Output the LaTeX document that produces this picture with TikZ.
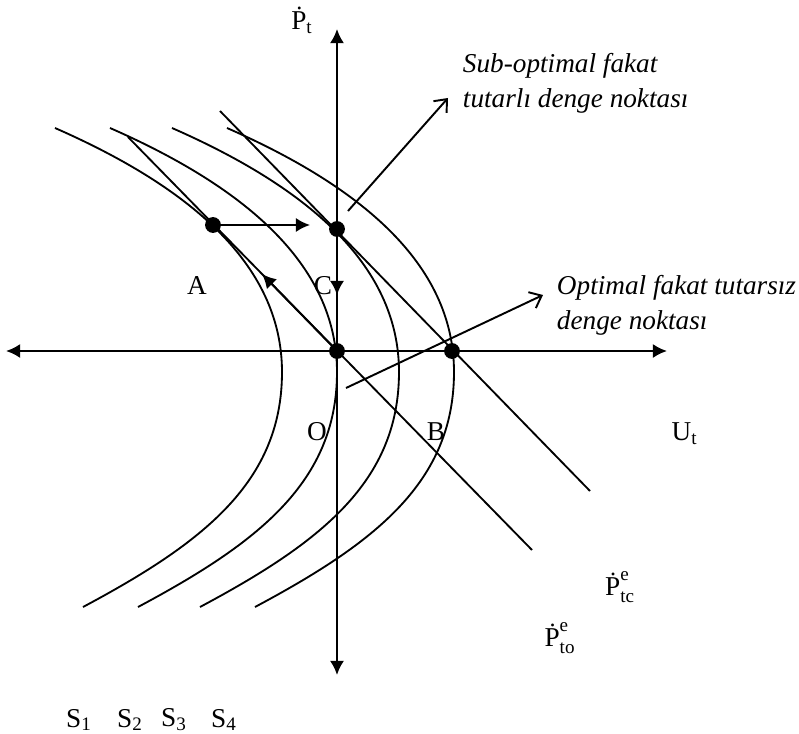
\documentclass[tikz,border=0pt]{standalone}
\usepackage{fontspec}
\setmainfont{Liberation Serif}
\usepackage{amsmath}
\usetikzlibrary{arrows.meta}

\newcommand{\Pd}{\text{Ṗ}}

\tikzset{
    dot/.style={circle, fill, inner sep=0pt, minimum size=9pt},
    bigtip/.style={-{Latex[length=8pt,width=8pt]}},
    bothtips/.style={{Latex[length=8pt,width=8pt]}-{Latex[length=8pt,width=8pt]}},
    opentip/.style={-{Straight Barb[length=6pt,width=10pt]}},
    curve/.style={line width=1.05pt},
    note/.style={font=\fontsize{15.5}{20}\selectfont\itshape, align=left, anchor=west, inner sep=0pt}
}

\begin{document}
\begin{tikzpicture}[
    x=0.2cm, y=0.2cm,
    line width=1.1pt,
    every node/.style={font=\fontsize{15.5}{20}\selectfont}
]
\useasboundingbox (-33.7,-38.3) rectangle (46.2,35.1);

% axes
\coordinate (xl) at (-33.1,0);
\coordinate (xr) at (33.0,0);
\coordinate (yt) at (0,32.2);
\coordinate (yb) at (0,-32.4);
\draw[bothtips, line width=1.3pt] (xl) -- (xr);
\draw[bothtips, line width=1.3pt] (yb) -- (yt);

% curves S1 ... S4
\draw[curve] (-28.2,22.3) .. controls (-15.2,16.6) and (-5.5,8.9) .. (-5.5,-2.1)
    .. controls (-5.5,-13.1) and (-13.4,-19.2) .. (-25.4,-25.6);
\draw[curve, shift={(5.5,0)}] (-28.2,22.3) .. controls (-15.2,16.6) and (-5.5,8.9) .. (-5.5,-2.1)
    .. controls (-5.5,-13.1) and (-13.4,-19.2) .. (-25.4,-25.6);
\draw[curve, shift={(11.7,0)}] (-28.2,22.3) .. controls (-15.2,16.6) and (-5.5,8.9) .. (-5.5,-2.1)
    .. controls (-5.5,-13.1) and (-13.4,-19.2) .. (-25.4,-25.6);
\draw[curve, shift={(17.2,0)}] (-28.2,22.3) .. controls (-15.2,16.6) and (-5.5,8.9) .. (-5.5,-2.1)
    .. controls (-5.5,-13.1) and (-13.4,-19.2) .. (-25.4,-25.6);

% expectation lines
\coordinate (to1) at (-20.9,21.4);
\coordinate (to2) at (19.5,-19.9);
\coordinate (tc1) at (-11.7,24.0);
\coordinate (tc2) at (25.3,-14.0);
\draw[curve] (to1) -- (to2);
\draw[curve] (tc1) -- (tc2);

% points
\node[dot] (dA) at (-12.4,12.6) {};
\node[dot] (dC) at (0,12.2) {};
\node[dot] (dO) at (0,0) {};
\node[dot] (dB) at (11.5,0) {};

% movements
\coordinate (aA) at (-2.7,12.6);
\coordinate (aC) at (0,5.6);
\coordinate (aO) at (-7.5,7.7);
\draw[bigtip] (dA.center) -- (aA);
\draw[bigtip] (dC.center) -- (aC);
\draw[bigtip] (dO.center) -- (aO);

% notes
\node[note] (sub) at (12.5,26.8) {Sub-optimal fakat\\tutarlı denge noktası};
\node[note] (opt) at (21.9,4.6) {Optimal fakat tutarsız\\denge noktası};
\coordinate (s1) at (1.1,14.0);
\coordinate (s2) at (11.1,25.3);
\coordinate (o1) at (0.9,-3.7);
\coordinate (o2) at (20.6,5.6);
\draw[opentip] (s1) -- (s2);
\draw[opentip] (o1) -- (o2);

% labels
\node (lPt) at (-3.5,33.1) {$\Pd_{\text{t}}$};
\node (lA) at (-14.0,6.5) {A};
\node (lC) at (-1.4,6.5) {C};
\node (lO) at (-2.0,-8.1) {O};
\node (lB) at (9.9,-8.1) {B};
\node (lUt) at (34.75,-8.3) {$\text{U}_{\text{t}}$};
\node (lPtc) at (28.3,-23.6) {$\Pd^{\text{e}}_{\text{tc}}$};
\node (lPto) at (22.3,-28.7) {$\Pd^{\text{e}}_{\text{to}}$};
\node (lS1) at (-25.8,-36.9) {$\text{S}_{\text{1}}$};
\node (lS2) at (-20.7,-36.9) {$\text{S}_{\text{2}}$};
\node (lS3) at (-16.3,-36.9) {$\text{S}_{\text{3}}$};
\node (lS4) at (-11.3,-36.9) {$\text{S}_{\text{4}}$};
\end{tikzpicture}
\end{document}
